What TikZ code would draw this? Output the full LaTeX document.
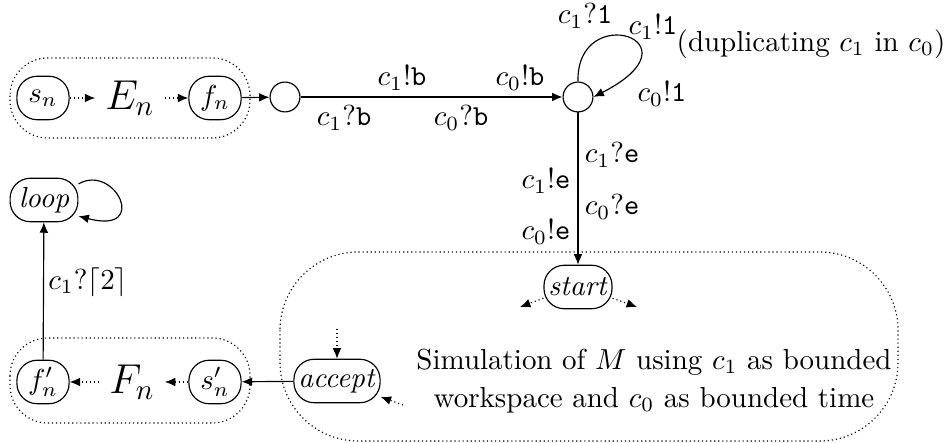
\documentclass[tikz,border=0pt]{standalone}
\usetikzlibrary{arrows.meta}
\begin{document}
\begin{tikzpicture}[x=0.345pt,y=-0.345pt,
  >={Latex[length=3.6pt,width=3pt]},
  st/.style={draw, rounded corners=7pt, inner xsep=1.5pt, inner ysep=2pt, minimum height=15pt},
  sm/.style={st, minimum width=18pt},
  circ/.style={draw, circle, minimum size=10.3pt, inner sep=0pt},
  dots/.style={densely dotted},
  bigm/.style={font=\fontsize{14}{16}\selectfont},
  lbl/.style={inner sep=1pt}]
\useasboundingbox (0,0) rectangle (946,443);
% group outlines
\draw[dots, rounded corners=13pt] (10,58) rectangle (250,138);
\draw[dots, rounded corners=13pt] (10,338) rectangle (250,423);
\draw[dots, rounded corners=27pt] (280,252) rectangle (898,441);
% nodes
\node[sm] (sn) at (43,98) {$s_n$};
\node[bigm] (En) at (130,98) {$E_n$};
\node[sm] (fn) at (215,98) {$f_n$};
\node[circ] (q1) at (285,97) {};
\node[circ] (q2) at (578,97) {};
\node[st] (start) at (578,287) {\textit{start}};
\node[st] (acc) at (337,381) {\textit{accept}};
\node[sm] (spn) at (215,382) {$s'_n$};
\node[bigm] (Fn) at (132,382) {$F_n$};
\node[sm] (fpn) at (43,382) {$f'_n$};
\node[st, minimum width=23.4pt] (lp) at (44,200) {\textit{loop}};
\node[align=center] (sim) at (654,381) {Simulation of $M$ using $c_1$ as bounded\\[1pt]workspace and $c_0$ as bounded time};
% coordinates for free ends
\coordinate (sl) at (520,307);
\coordinate (sr) at (637,307);
\coordinate (ai) at (337,329);
\coordinate (ar) at (403,405);
% edges
\draw[dots,->] (sn) -- (En);
\draw[dots,->] (En) -- (fn);
\draw[->] (fn) -- (q1);
\draw[->] (q1) -- (q2);
\draw[->] (q2.north) .. controls (576,0) and (705,40) .. (q2.east);
\draw[->] (q2) -- (start);
\draw[dots,->] (start.198) -- (sl);
\draw[dots,->] (start.-18) -- (sr);
\draw[dots,->] (ai) -- (acc);
\draw[dots,->] (ar) -- (acc.-20);
\draw[->] (acc) -- (spn);
\draw[dots,->] (spn) -- (Fn);
\draw[dots,->] (Fn) -- (fpn);
\draw[->] (fpn) -- (lp);
\draw[->] (lp.25) .. controls (115,163) and (150,235) .. (lp.-25);
% labels
\node[lbl] (l1) at (402,78) {$c_1!\mathtt{b}$};
\node[lbl] (l2) at (520,78) {$c_0!\mathtt{b}$};
\node[lbl] (l3) at (344,118) {$c_1?\mathtt{b}$};
\node[lbl] (l4) at (461,118) {$c_0?\mathtt{b}$};
\node[lbl] (l5) at (585,16) {$c_1?\mathtt{1}$};
\node[lbl] (l6) at (653,27) {$c_1!\mathtt{1}$};
\node[lbl] (l7) at (811,44) {(duplicating $c_1$ in $c_0$)};
\node[lbl] (l8) at (662,94) {$c_0!\mathtt{1}$};
\node[lbl] (l9) at (612,155) {$c_1?\mathtt{e}$};
\node[lbl] (l10) at (546,181) {$c_1!\mathtt{e}$};
\node[lbl] (l11) at (612,207) {$c_0?\mathtt{e}$};
\node[lbl] (l12) at (546,232) {$c_0!\mathtt{e}$};
\node[lbl] (l13) at (88,282) {$c_1?\lceil 2\rceil$};
\end{tikzpicture}
\end{document}
